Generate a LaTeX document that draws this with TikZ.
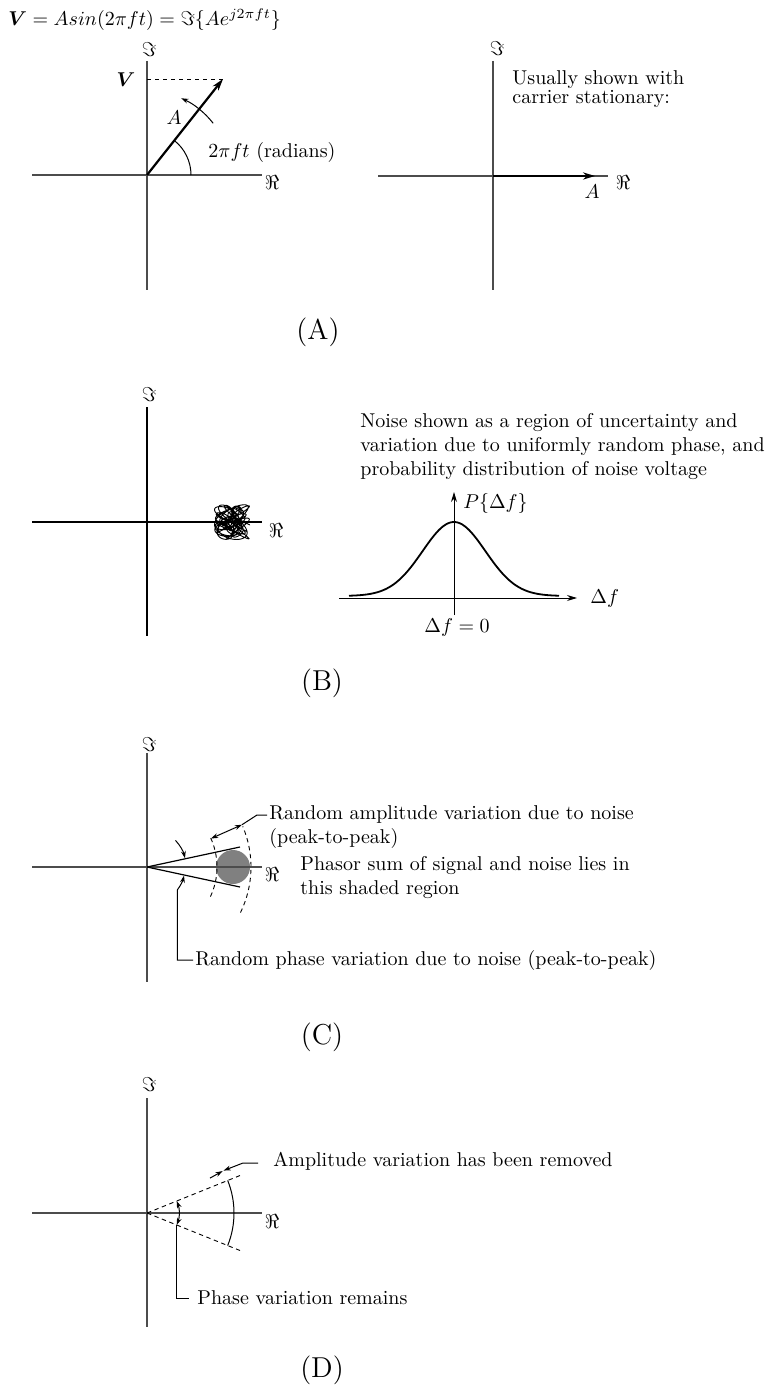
\documentclass[tikz,border=0pt]{standalone}
\usepackage{amsmath}
\usetikzlibrary{arrows.meta}
\begin{document}
\begin{tikzpicture}[x=0.5pt,y=0.5pt,
  axis/.style={line width=0.6pt, black!70},
  vecline/.style={line width=1.1pt, -{Stealth[length=6pt,width=3.6pt]}},
  tip/.style={-{Stealth[length=3.6pt,width=2.4pt]}},
  tiptwo/.style={{Stealth[length=3.6pt,width=2.4pt]}-{Stealth[length=3.6pt,width=2.4pt]}},
  txt/.style={inner sep=0pt, align=left, anchor=west},
  lbl/.style={inner sep=0pt},
  panel/.style={font=\Large, inner sep=0pt},
  dsh/.style={dash pattern=on 2.2pt off 1.8pt, line width=0.45pt},
  thinline/.style={line width=0.5pt}
]
\useasboundingbox (0,0) rectangle (775,-1385);

% formula
\node[txt] (formula) at (8,-20) {$\boldsymbol{V} = Asin(2\pi ft) = \Im\{Ae^{j2\pi ft}\}$};

% ---------- Panel A left
\begin{scope}[shift={(147,-175)}]
\coordinate (ao) at (0,0);
\coordinate (aL) at (-115,0); \coordinate (aR) at (115,0);
\coordinate (aT) at (0,114); \coordinate (aB) at (0,-115);
\draw[axis] (aL) -- (aR); \draw[axis] (aT) -- (aB);
\node[lbl] (aim) at (2,125) {$\Im$};
\node[lbl] (are) at (125,-8) {$\Re$};
\coordinate (atip) at (76,96);
\coordinate (av) at (0,96);
\draw[dsh] (av) -- (atip);
\draw[vecline] (ao) -- (atip);
\node[lbl] (avl) at (-21,95) {$\boldsymbol{V}$};
\draw[thinline] (44,0) arc[start angle=0,end angle=51.6,radius=44];
\draw[tip, thinline] (38:84) arc[start angle=38,end angle=66,radius=84];
\node[lbl] (aal) at (27,57) {$A$};
\node[txt] (arad) at (61,22) {$2\pi ft$ (radians)};
\end{scope}

% ---------- Panel A right
\begin{scope}[shift={(493,-176)}]
\coordinate (bo) at (0,0);
\coordinate (bL) at (-115,0); \coordinate (bR) at (115,0);
\coordinate (bT) at (0,115); \coordinate (bB) at (0,-114);
\draw[axis] (bL) -- (bR); \draw[axis] (bT) -- (bB);
\node[lbl] (bim) at (4,127) {$\Im$};
\node[lbl] (bre) at (130,-7) {$\Re$};
\coordinate (btip) at (102,0);
\draw[vecline] (bo) -- (btip);
\node[lbl] (bal) at (99,-16) {$A$};
\node[txt] (busual) at (19,86.5) {Usually shown with\\[-2.5pt]carrier stationary:};
\end{scope}

\node[panel] (labA) at (318,-332) {(A)};

% ---------- Panel B
\begin{scope}[shift={(147,-522)}]
\coordinate (co) at (0,0);
\coordinate (cL) at (-115,0); \coordinate (cR) at (115,0);
\coordinate (cT) at (0,115); \coordinate (cB) at (0,-114);
\draw[line width=0.6pt] (cL) -- (cR); \draw[line width=0.6pt] (cT) -- (cB);
\node[lbl] (cim) at (2,127) {$\Im$};
\node[lbl] (cre) at (129,-9) {$\Re$};
\coordinate (cend) at (75,0);
\draw[line width=1.1pt] (co) -- (cend);
\draw[line width=0.45pt] plot[domain=0:1400, samples=800, smooth, variable=\t]
  ({85+9*sin(3.1*\t)+8.5*cos(7.3*\t)}, {9*cos(2.3*\t)+8.5*sin(5.7*\t)});
\end{scope}

\node[txt] (bnoise) at (360,-447) {Noise shown as a region of uncertainty and\\variation due to uniformly random phase, and\\probability distribution of noise voltage};

\begin{scope}[shift={(454,-598)}]
\coordinate (do) at (0,0);
\coordinate (dL) at (-115,0); \coordinate (dR) at (123,0);
\coordinate (dT) at (0,106); \coordinate (dB) at (0,-17);
\draw[thinline, -{Stealth[length=5pt,width=3pt]}] (dL) -- (dR);
\draw[thinline, -{Stealth[length=5pt,width=3pt]}] (dB) -- (dT);
\draw[line width=0.9pt] plot[domain=-105:105, samples=90, smooth, variable=\x]
  (\x, {2+74*exp(-\x*\x/1972)});
\node[txt] (dp) at (9,95) {$P\{\Delta f\}$};
\node[txt] (ddf) at (136,0) {$\Delta f$};
\node[lbl] (dzero) at (3,-29) {$\Delta f = 0$};
\end{scope}

\node[panel] (labB) at (322,-683) {(B)};

% ---------- Panel C
\begin{scope}[shift={(147,-867)}]
\coordinate (eo) at (0,0);
\coordinate (eL) at (-115,0); \coordinate (eR) at (115,0);
\coordinate (eT) at (0,114); \coordinate (eB) at (0,-115);
\fill[black!50] (86,0) circle[radius=17];
\draw[axis] (eL) -- (eR); \draw[axis] (eT) -- (eB);
\node[lbl] (eim) at (2,122) {$\Im$};
\node[lbl] (ere) at (125,-8) {$\Re$};
\coordinate (eu) at (93,20); \coordinate (el) at (93,-20);
\draw[line width=0.6pt] (eo) -- (eu);
\draw[line width=0.6pt] (eo) -- (el);
\draw[dsh] (-25:70) arc[start angle=-25,end angle=25,radius=70];
\draw[dsh] (-26:104) arc[start angle=-26,end angle=23,radius=104];
\coordinate (ea1) at (24:70); \coordinate (ea2) at (24:104);
\draw[tiptwo, thinline] (ea1) -- (ea2);
\coordinate (eknee) at (110,52); \coordinate (eleadend) at (120,52);
\draw[thinline] (ea2) -- (eknee) -- (eleadend);
\node[txt] (eamp) at (122,40) {Random amplitude variation due to noise\\(peak-to-peak)};
\node[txt] (ephasor) at (153,-11) {Phasor sum of signal and noise lies in\\this shaded region};
\draw[tip, thinline] (43:39) arc[start angle=43,end angle=13,radius=39];
\coordinate (ecl) at (-37:38);
\node[txt] (ephase) at (48,-93) {Random phase variation due to noise (peak-to-peak)};
\coordinate (eleft) at (46,-93);
\draw[tip, thinline] (eleft) -- (eleft -| ecl) -- (ecl) arc[start angle=-37,end angle=-13,radius=38];
\end{scope}

\node[panel] (labC) at (322,-1037) {(C)};

% ---------- Panel D
\begin{scope}[shift={(147,-1213)}]
\coordinate (fo) at (0,0);
\coordinate (fL) at (-115,0); \coordinate (fR) at (115,0);
\coordinate (fT) at (0,115); \coordinate (fB) at (0,-114);
\draw[axis] (fL) -- (fR); \draw[axis] (fT) -- (fB);
\node[lbl] (fim) at (2,128) {$\Im$};
\node[lbl] (fre) at (125,-9) {$\Re$};
\coordinate (fu) at (93,37.5); \coordinate (fl) at (93,-37.5);
\draw[dsh] (fo) -- (fu);
\draw[dsh] (fo) -- (fl);
\draw[thinline] (-22:87) arc[start angle=-22,end angle=22,radius=87];
\coordinate (fa1) at (29:72); \coordinate (fa2) at (29:86.5); \coordinate (fa3) at (29:87.5);
\draw[tip, thinline] (fa1) -- (fa2);
\coordinate (fknee) at (96,50); \coordinate (fleadend) at (111,50);
\draw[tip, thinline] (fleadend) -- (fknee) -- (fa3);
\node[txt] (famp) at (126,52) {Amplitude variation has been removed};
\draw[tiptwo, thinline] (-22:32) arc[start angle=-22,end angle=22,radius=32];
\coordinate (fpl) at (-22:32);
\coordinate (fpend) at (42,-85);
\draw[thinline] (fpl) -- (fpl |- fpend) -- (fpend);
\node[txt] (fphase) at (50,-85) {Phase variation remains};
\end{scope}

\node[panel] (labD) at (322,-1370) {(D)};
\end{tikzpicture}
\end{document}
